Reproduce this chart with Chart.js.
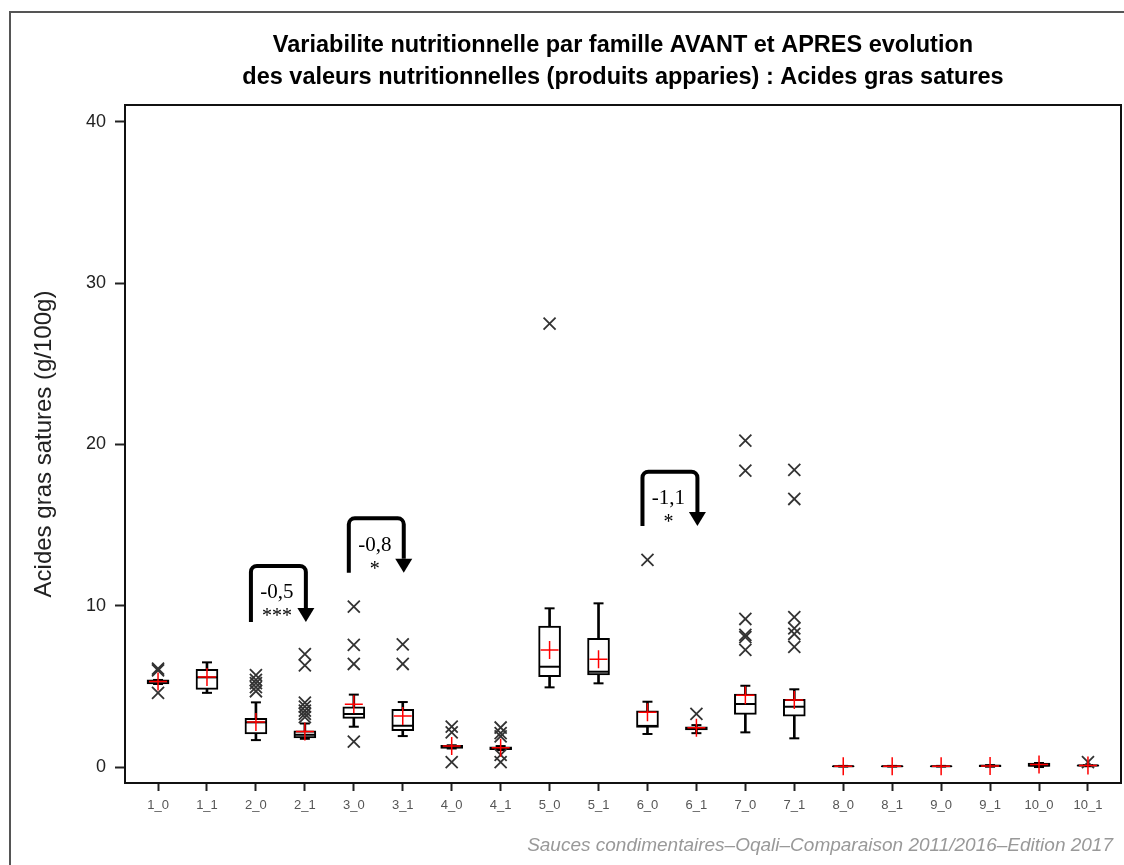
<!DOCTYPE html>
<html>
<head>
<meta charset="utf-8">
<script src="https://cdn.jsdelivr.net/npm/chart.js@4"></script>
<style>
  html, body { margin: 0; padding: 0; background: #fff; overflow: hidden; }
  canvas { display: block; }
</style>
</head>
<body>
<canvas id="chart" width="1124" height="865"></canvas>
<script>
// familles avant (_0) / apres (_1)
const categories = ['1_0','1_1','2_0','2_1','3_0','3_1','4_0','4_1','5_0','5_1',
                    '6_0','6_1','7_0','7_1','8_0','8_1','9_0','9_1','10_0','10_1'];
const whiskerLow  = [5.15, 4.6, 1.67, 1.75, 2.5, 1.92, 1.15, 1.05, 4.94, 5.19, 2.05, 2.1, 2.15, 1.78, 0.03, 0.03, 0.03, 0.02, 0.0, 0.05];
const q1          = [5.15, 4.82, 2.05, 1.8, 3.02, 2.25, 1.15, 1.08, 5.6, 5.71, 2.46, 2.3, 3.27, 3.16, 0.03, 0.03, 0.03, 0.02, 0.0, 0.05];
const medians     = [5.3, 5.56, 2.77, 2.0, 3.29, 2.56, 1.25, 1.15, 6.22, 5.91, 2.55, 2.4, 3.91, 3.74, 0.05, 0.05, 0.05, 0.08, 0.1, 0.1];
const q3          = [5.4, 6.06, 3.02, 2.25, 3.74, 3.58, 1.35, 1.25, 8.74, 7.98, 3.49, 2.5, 4.53, 4.2, 0.07, 0.07, 0.07, 0.12, 0.25, 0.12];
const whiskerHigh = [5.4, 6.49, 4.01, 2.7, 4.49, 4.03, 1.35, 1.3, 9.84, 10.15, 4.05, 2.6, 5.04, 4.82, 0.07, 0.07, 0.07, 0.12, 0.25, 0.12];
const means       = [5.3, 5.58, 2.8, 2.2, 3.9, 3.16, 1.3, 1.2, 7.26, 6.68, 3.4, 2.43, 4.45, 4.15, 0.05, 0.05, 0.05, 0.07, 0.15, 0.1];
const outliers = [
  [6.1, 6.0, 4.6], [], [5.7, 5.4, 5.2, 4.95, 4.7], [7.0, 6.3, 4.0, 3.75, 3.5, 3.3, 3.1],
  [9.94, 7.57, 6.39, 1.57], [7.61, 6.39], [2.5, 2.15, 0.3], [2.45, 2.1, 1.9, 0.75, 0.3],
  [27.5], [], [12.84], [3.3], [20.24, 18.38, 9.18, 8.19, 8.05, 7.26], [18.42, 16.62, 9.3, 8.6, 8.25, 7.45],
  [], [], [], [], [], [0.3]
];
const yTicks = [0, 10, 20, 30, 40];

// fleches d'evolution entre avant et apres
const arrowFrom  = [2, 4, 10];
const arrowTo    = [3, 5, 11];
const arrowBase  = [9.0, 12.05, 14.95];
const arrowTop   = [12.47, 15.42, 18.31];
const arrowDiff  = ['-0,5', '-0,8', '-1,1'];
const arrowStars = ['***', '*', '*'];

const titleLines = [
  'Variabilite nutritionnelle par famille AVANT et APRES evolution',
  'des valeurs nutritionnelles (produits apparies) : Acides gras satures'
];
const footer = 'Sauces condimentaires\u2013Oqali\u2013Comparaison 2011/2016\u2013Edition 2017';

const decor = {
  id: 'decor',
  afterDraw(chart) {
    const ctx = chart.ctx, a = chart.chartArea;
    const xs = chart.scales.x, ys = chart.scales.y;
    ctx.save();
    // cadre exterieur
    ctx.strokeStyle = '#555'; ctx.lineWidth = 2;
    ctx.beginPath(); ctx.moveTo(10, 865); ctx.lineTo(10, 12); ctx.lineTo(1124, 12); ctx.stroke();
    // cadre du graphe
    ctx.strokeStyle = '#111'; ctx.lineWidth = 2;
    ctx.strokeRect(a.left, a.top, a.right - a.left, a.bottom - a.top);
    // titre
    ctx.fillStyle = '#000'; ctx.textAlign = 'center'; ctx.textBaseline = 'middle';
    ctx.font = 'bold 23.5px "Liberation Sans", Arial, sans-serif';
    const cx = (a.left + a.right) / 2;
    ctx.fillText(titleLines[0], cx, 46);
    ctx.fillText(titleLines[1], cx, 78);
    // source
    ctx.fillStyle = '#999'; ctx.textAlign = 'right';
    ctx.font = 'italic 19px "Liberation Sans", Arial, sans-serif';
    ctx.fillText(footer, 1113, 846);
    // fleches
    arrowFrom.forEach((f, k) => {
      const xl = xs.getPixelForValue(f) - 5;
      const xr = xs.getPixelForValue(arrowTo[k]) + 1;
      const yb = ys.getPixelForValue(arrowBase[k]);
      const yt = ys.getPixelForValue(arrowTop[k]);
      ctx.strokeStyle = '#000'; ctx.fillStyle = '#000'; ctx.lineWidth = 4;
      ctx.beginPath();
      ctx.moveTo(xl, yb);
      ctx.arcTo(xl, yt, xr, yt, 6);
      ctx.arcTo(xr, yt, xr, yb, 6);
      ctx.lineTo(xr, yb - 14);
      ctx.stroke();
      ctx.beginPath();
      ctx.moveTo(xr - 8.5, yb - 14); ctx.lineTo(xr + 8.5, yb - 14); ctx.lineTo(xr, yb);
      ctx.closePath(); ctx.fill();
      const mx = (xl + xr) / 2 - 1.5;
      ctx.textAlign = 'center'; ctx.textBaseline = 'middle';
      ctx.font = '21px "Liberation Serif", "DejaVu Serif", serif';
      ctx.fillText(arrowDiff[k], mx, yt + 27);
      ctx.font = '20px "Liberation Serif", "DejaVu Serif", serif';
      ctx.fillText(arrowStars[k], mx, yt + 51);
    });
    ctx.restore();
  }
};

const pts = arr => arr.map((v, i) => ({ x: i, y: v }));
const outlierPts = [];
outliers.forEach((list, i) => list.forEach(v => outlierPts.push({ x: i, y: v })));

new Chart(document.getElementById('chart'), {
  type: 'bar',
  data: {
    datasets: [
      { type: 'scatter', data: pts(means), pointStyle: 'cross', pointRadius: 9,
        borderColor: '#ff0000', backgroundColor: '#ff0000', borderWidth: 1.5 },
      { type: 'scatter', data: outlierPts, pointStyle: 'crossRot', pointRadius: 8.5,
        borderColor: '#333', backgroundColor: '#333', borderWidth: 1.8 },
      { type: 'scatter', data: pts(medians), pointStyle: 'line', pointRadius: 10.5,
        borderColor: '#000', borderWidth: 2 },
      { type: 'scatter', data: pts(whiskerLow).concat(pts(whiskerHigh)), pointStyle: 'line', pointRadius: 5,
        borderColor: '#000', borderWidth: 2 },
      { type: 'bar', data: categories.map((c, i) => ({ x: i, y: [q1[i], q3[i]] })),
        barThickness: 22, grouped: false, backgroundColor: '#fff', borderColor: '#000',
        borderWidth: 2, borderSkipped: false },
      { type: 'bar', data: categories.map((c, i) => ({ x: i, y: [whiskerLow[i], whiskerHigh[i]] })),
        barThickness: 2, grouped: false, backgroundColor: '#000', borderWidth: 0 }
    ]
  },
  options: {
    responsive: false,
    animation: false,
    devicePixelRatio: 1,
    layout: { autoPadding: false, padding: { top: 105, right: 3, left: 0, bottom: 0 } },
    plugins: { legend: { display: false }, tooltip: { enabled: false } },
    scales: {
      x: {
        type: 'linear', min: -0.675, max: 19.675, offset: false,
        afterFit: s => { s.height = 82; s.paddingLeft = 0; s.paddingRight = 0; },
        afterBuildTicks: s => { s.ticks = categories.map((c, i) => ({ value: i })); },
        border: { display: false },
        grid: { display: true, drawOnChartArea: false, drawTicks: true, tickLength: 8,
                tickColor: '#222', tickWidth: 2, offset: false },
        ticks: { autoSkip: false, maxRotation: 0, padding: 7, color: '#555',
                 font: { family: '"Liberation Sans", Arial, sans-serif', size: 13 },
                 callback: v => categories[Math.round(v)] }
      },
      y: {
        min: -0.99, max: 41.05,
        afterFit: s => { s.width = 125; s.paddingTop = 0; s.paddingBottom = 0; },
        afterBuildTicks: s => { s.ticks = yTicks.map(v => ({ value: v })); },
        border: { display: false },
        grid: { display: true, drawOnChartArea: false, drawTicks: true, tickLength: 10,
                tickColor: '#222', tickWidth: 2 },
        ticks: { padding: 9, color: '#222',
                 font: { family: '"Liberation Sans", Arial, sans-serif', size: 18 } },
        title: { display: true, text: 'Acides gras satures (g/100g)', color: '#222',
                 padding: { top: 30, bottom: 0 },
                 font: { family: '"Liberation Sans", Arial, sans-serif', size: 24 } }
      }
    }
  },
  plugins: [decor]
});
</script>
</body>
</html>
